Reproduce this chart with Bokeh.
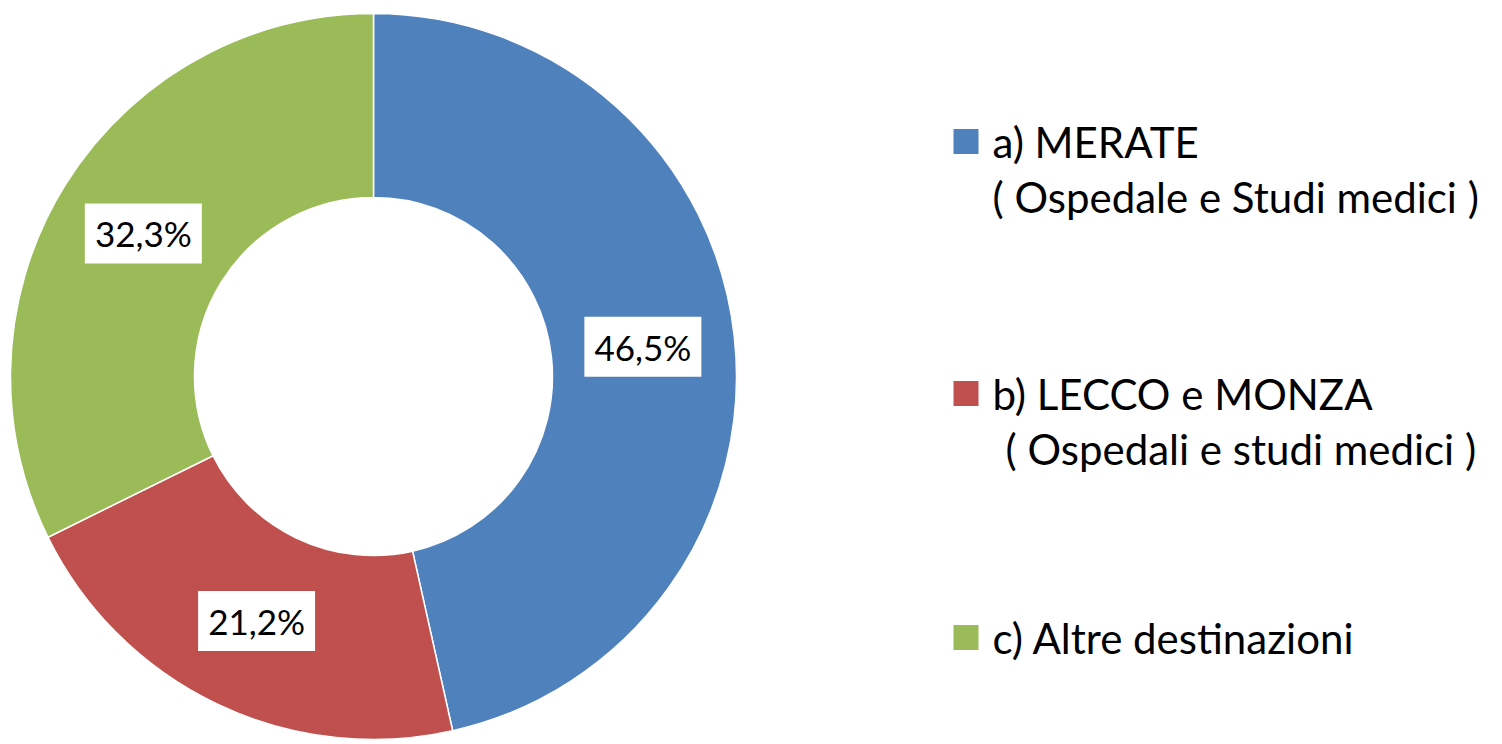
import math
from bokeh.plotting import figure
from bokeh.models import ColumnDataSource, Range1d
from bokeh.core.properties import value
from bokeh.embed import file_html
from bokeh.resources import INLINE

# ---- data ----
categories = ["a) MERATE", "b) LECCO e MONZA", "c) Altre destinazioni"]
subtitles = ["( Ospedale e Studi medici )", "( Ospedali e studi medici )", ""]
shares = [46.5, 21.2, 32.3]
share_labels = ["46,5%", "21,2%", "32,3%"]
colors = ["#4F81BD", "#C0504D", "#9BBB59"]

# ---- layout constants ----
W, H = 1502, 744
CX, CY = 373, 368
R_OUT, R_IN = 363, 179
R_LAB = 271
FONT = "Lato"

total = sum(shares)
starts, ends, lx, ly = [], [], [], []
cum = 0.0
for s in shares:
    a0 = math.pi / 2 - 2 * math.pi * cum / total
    a1 = math.pi / 2 - 2 * math.pi * (cum + s) / total
    starts.append(a1)
    ends.append(a0)
    mid = (a0 + a1) / 2
    lx.append(CX + R_LAB * math.cos(mid))
    ly.append(CY + R_LAB * math.sin(mid))
    cum += s

src = ColumnDataSource(dict(start=starts, end=ends, color=colors, lx=lx, ly=ly,
                            lab=share_labels))

p = figure(width=W, height=H, output_backend="svg", toolbar_location=None,
           x_range=Range1d(0, W), y_range=Range1d(0, H), min_border=0)
p.axis.visible = False
p.grid.visible = False
p.outline_line_color = None
p.background_fill_color = "white"

p.annular_wedge(x=CX, y=CY, inner_radius=R_IN, outer_radius=R_OUT,
                start_angle="start", end_angle="end", direction="anticlock",
                fill_color="color", line_color="white", line_width=1.5, source=src)

p.rect(x="lx", y="ly", width=117, height=60, fill_color="white", line_color=None, source=src)
p.text(x="lx", y="ly", text="lab", text_font=value(FONT), text_font_size="35px",
       text_align="center", text_baseline="middle", text_color="#000000", source=src)

# legend
leg_y = [603, 351, 107]
sq_x = 965.5
txt_x = 992
sub_indent = [0, 13, 0]
line_gap = 55
leg = ColumnDataSource(dict(x=[sq_x] * 3, y=leg_y, color=colors,
                            tx=[txt_x] * 3, t1=categories,
                            t2=subtitles, tx2=[txt_x + d for d in sub_indent],
                            y2=[y - line_gap for y in leg_y]))
p.rect(x="x", y="y", width=25, height=25, fill_color="color", line_color=None, source=leg)
p.text(x="tx", y="y", text="t1", text_font=value(FONT), text_font_size="42px",
       text_align="left", text_baseline="middle", text_color="#000000", source=leg)
p.text(x="tx2", y="y2", text="t2", text_font=value(FONT), text_font_size="42px",
       text_align="left", text_baseline="middle", text_color="#000000", source=leg)

open("out.html", "w").write(file_html(p, INLINE))
